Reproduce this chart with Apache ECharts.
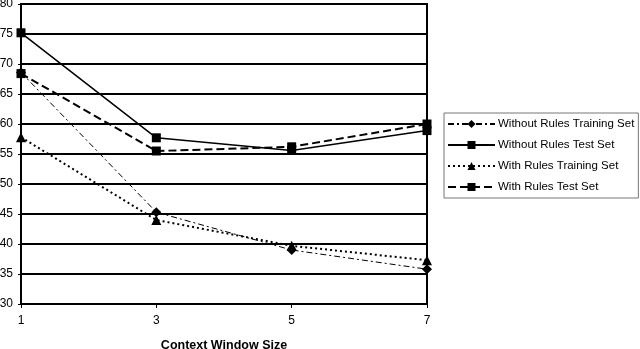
<!DOCTYPE html>
<html>
<head>
<meta charset="utf-8">
<script src="https://cdn.jsdelivr.net/npm/echarts@6/dist/echarts.min.js"></script>
<style>
  html, body { margin: 0; padding: 0; background: #fff; }
  #dv { width: 640px; height: 349px; }
</style>
</head>
<body>
<div id="dv"></div>
<script>
var windowSizes = ['1', '3', '5', '7']
var woTrain = [68.6, 45.3, 39.0, 35.8]
var woTest = [75.2, 57.7, 55.6, 58.9]
var wTrain = [57.8, 44.0, 39.7, 37.3]
var wTest = [68.4, 55.5, 56.2, 60.0]
var yTicks = { min: 30, max: 80, step: 5 }

var font = 'Liberation Sans, Arial, sans-serif'

var chartDom = document.getElementById('dv');
var myChart = echarts.init(chartDom);
var option;

function mkSeries(name, data, symbol, size, lineType, lineWidth) {
    return {
        name: name,
        type: 'line',
        data: data,
        symbol: symbol,
        symbolSize: size,
        itemStyle: { color: '#000' },
        lineStyle: { color: '#000', width: lineWidth, type: lineType },
        emphasis: { disabled: true }
    }
}

option = {
    animation: false,
    backgroundColor: '#fff',
    textStyle: { fontFamily: font },
    legend: {
        orient: 'vertical',
        left: 444,
        top: 113,
        itemWidth: 47,
        itemHeight: 10,
        itemGap: 9,
        padding: [5, 4, 5, 3],
        borderColor: '#777',
        borderWidth: 1,
        textStyle: { color: '#000', fontSize: 11.5, fontFamily: font, padding: [0, 0, 0, -2] }
    },
    grid: {
        left: 21,
        right: 213,
        top: 4,
        bottom: 45,
        containLabel: false,
        outerBoundsMode: 'none',
        show: true,
        borderColor: '#000',
        borderWidth: 2
    },
    xAxis: {
        type: 'category',
        data: windowSizes,
        boundaryGap: false,
        name: 'Context Window Size',
        nameLocation: 'middle',
        nameGap: 35,
        nameTextStyle: { color: '#000', fontSize: 12.5, fontWeight: 'bold', fontFamily: font },
        axisLine: { lineStyle: { color: '#000', width: 2 } },
        axisTick: { show: true, length: 4, lineStyle: { color: '#000' } },
        axisLabel: { color: '#000', fontSize: 12, margin: 11, fontFamily: font },
        splitLine: { show: false }
    },
    yAxis: {
        type: 'value',
        min: yTicks.min,
        max: yTicks.max,
        interval: yTicks.step,
        axisLine: { show: true, lineStyle: { color: '#000', width: 2 } },
        axisTick: { show: true, length: 3, lineStyle: { color: '#000' } },
        axisLabel: { color: '#000', fontSize: 12, margin: 8, fontFamily: font },
        splitLine: { show: true, lineStyle: { color: '#000', width: 2 } }
    },
    series: [
        mkSeries('Without Rules Training Set', woTrain, 'diamond', 10, [6, 3, 2, 3], 1),
        mkSeries('Without Rules Test Set', woTest, 'rect', 9, 'solid', 1.5),
        mkSeries('With Rules Training Set', wTrain, 'triangle', 10, [2, 3], 2),
        mkSeries('With Rules Test Set', wTest, 'rect', 9, [8, 4], 2)
    ]
};

option && myChart.setOption(option);
</script>
</body>
</html>
